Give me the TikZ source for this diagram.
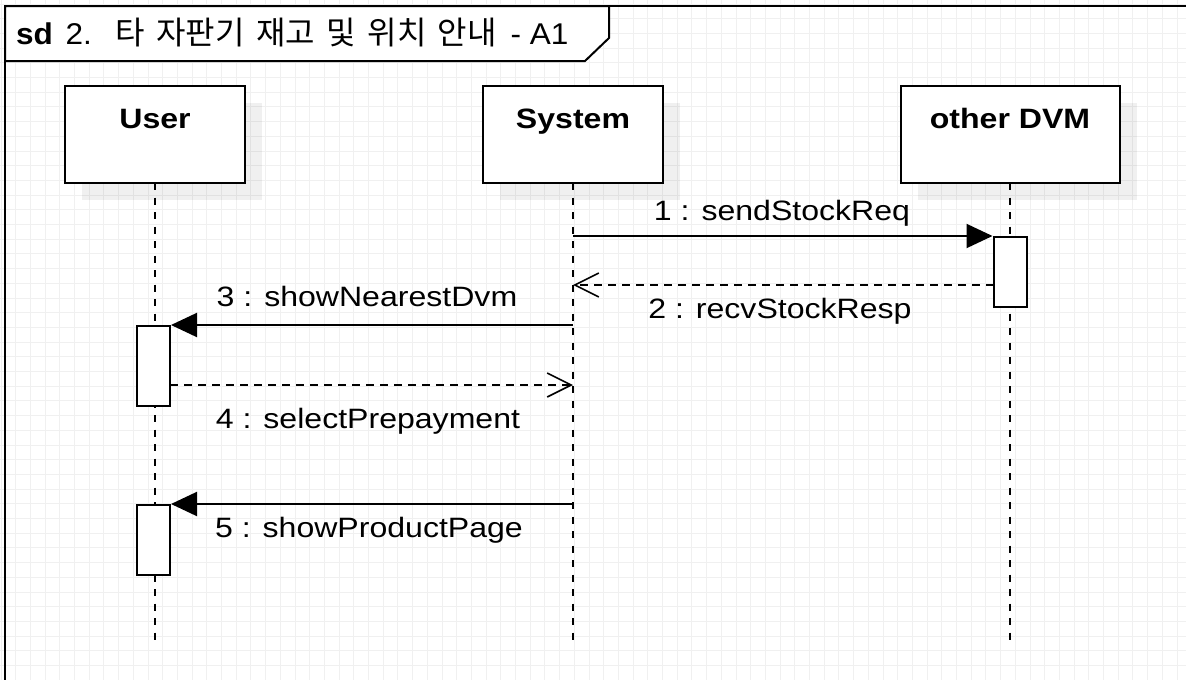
\documentclass[tikz,border=0pt]{standalone}
\usepackage{fontspec}
\setmainfont{Liberation Sans}[FakeStretch=1.145]
\newfontfamily\titlefont{Liberation Sans}[FakeStretch=1.05]
\newfontfamily\krfont{Noto Sans CJK KR}[WordSpace=1.6]
\usetikzlibrary{arrows.meta}
\tikzset{
  gridline/.style={draw=black!6, line width=1pt},
  frameline/.style={draw=black, line width=2pt},
  headbox/.style={draw=black, line width=2pt, fill=white},
  shadowbox/.style={fill=black, fill opacity=0.06, draw=none},
  actbox/.style={draw=black, line width=2pt, fill=white},
  lifeline/.style={draw=black, line width=2pt, dash pattern=on 7pt off 7.5pt},
  syncmsg/.style={draw=black, line width=2pt, -{Triangle[length=26pt,width=24pt]}},
  retmsg/.style={draw=black, line width=1.6pt, dash pattern=on 8pt off 6pt, -{Straight Barb[length=24pt,width=24pt,line width=1.6pt]}},
  headtext/.style={font=\fontsize{28}{32}\selectfont\bfseries, anchor=base, inner sep=0pt},
  msgtext/.style={font=\fontsize{28}{32}\selectfont, anchor=base, inner sep=0pt},
}
\begin{document}
\begin{tikzpicture}[x=1pt,y=-1pt]
\useasboundingbox (0,0) rectangle (1186,680);
\fill[white] (0,0) rectangle (1186,680);
% grid
\foreach \i in {0,...,80} \draw[gridline] ({1+14.7*\i},0) -- ({1+14.7*\i},680);
\foreach \j in {0,...,46} \draw[gridline] (0,{4+14.7*\j}) -- (1186,{4+14.7*\j});
% frame
\draw[frameline] (5,680) -- (5,6) -- (1186,6);
\draw[frameline, fill=white] (5,6) -- (609,6) -- (609,38) -- (585,61) -- (5,61) -- cycle;
\node[font=\fontsize{30}{34}\selectfont\titlefont, anchor=base west, inner sep=0pt] (title) at (16,44)
  {\textbf{sd}\hspace{4pt} 2.\hspace{12pt} {\fontsize{32}{36}\krfont 타 자판기 재고 및 위치 안내}\hspace{5pt} - A1};
% shadows
\fill[shadowbox] (82,103) rectangle (262,200);
\fill[shadowbox] (500,103) rectangle (680,200);
\fill[shadowbox] (918,103) rectangle (1137,200);
% lifelines
\coordinate (uTop) at (155,183); \coordinate (uBot) at (155,640);
\coordinate (sTop) at (573,183); \coordinate (sBot) at (573,640);
\coordinate (oTop) at (1010,183); \coordinate (oBot) at (1010,640);
\draw[lifeline] (uTop) -- (uBot);
\draw[lifeline] (sTop) -- (sBot);
\draw[lifeline] (oTop) -- (oBot);
% heads
\draw[headbox] (65,86) rectangle (245,183);
\draw[headbox] (483,86) rectangle (663,183);
\draw[headbox] (901,86) rectangle (1120,183);
\node[headtext] (user) at (155,128) {User};
\node[headtext] (system) at (573,128) {System};
\node[headtext] (other) at (1010,128) {other DVM};
% activations
\node[actbox, minimum width=33pt, minimum height=70pt, inner sep=0pt, anchor=north] (act1) at (1010,236) {};
\node[actbox, minimum width=33pt, minimum height=80pt, inner sep=0pt, anchor=north] (act2) at (153.5,325) {};
\node[actbox, minimum width=33pt, minimum height=70pt, inner sep=0pt, anchor=north] (act3) at (153.5,504) {};
% message endpoints on System lifeline
\coordinate (s1) at (573,236);
\coordinate (s2) at (573,285);
\coordinate (s3) at (573,325);
\coordinate (s4) at (573,385);
\coordinate (s5) at (573,504);
\coordinate (o2) at (993.5,285);
\coordinate (u4) at (170,385);
% messages
\draw[syncmsg] (s1) -- (act1.north west);
\draw[retmsg] (o2) -- (s2);
\draw[syncmsg] (s3) -- (act2.north east);
\draw[retmsg] (u4) -- (s4);
\draw[syncmsg] (s5) -- (act3.north east);
% labels
\node[msgtext] (l1) at (782,220) {1 : sendStockReq};
\node[msgtext] (l2) at (780,318) {2 : recvStockResp};
\node[msgtext] (l3) at (367,306) {3 : showNearestDvm};
\node[msgtext] (l4) at (368,428) {4 : selectPrepayment};
\node[msgtext] (l5) at (369,537) {5 : showProductPage};
\end{tikzpicture}
\end{document}
